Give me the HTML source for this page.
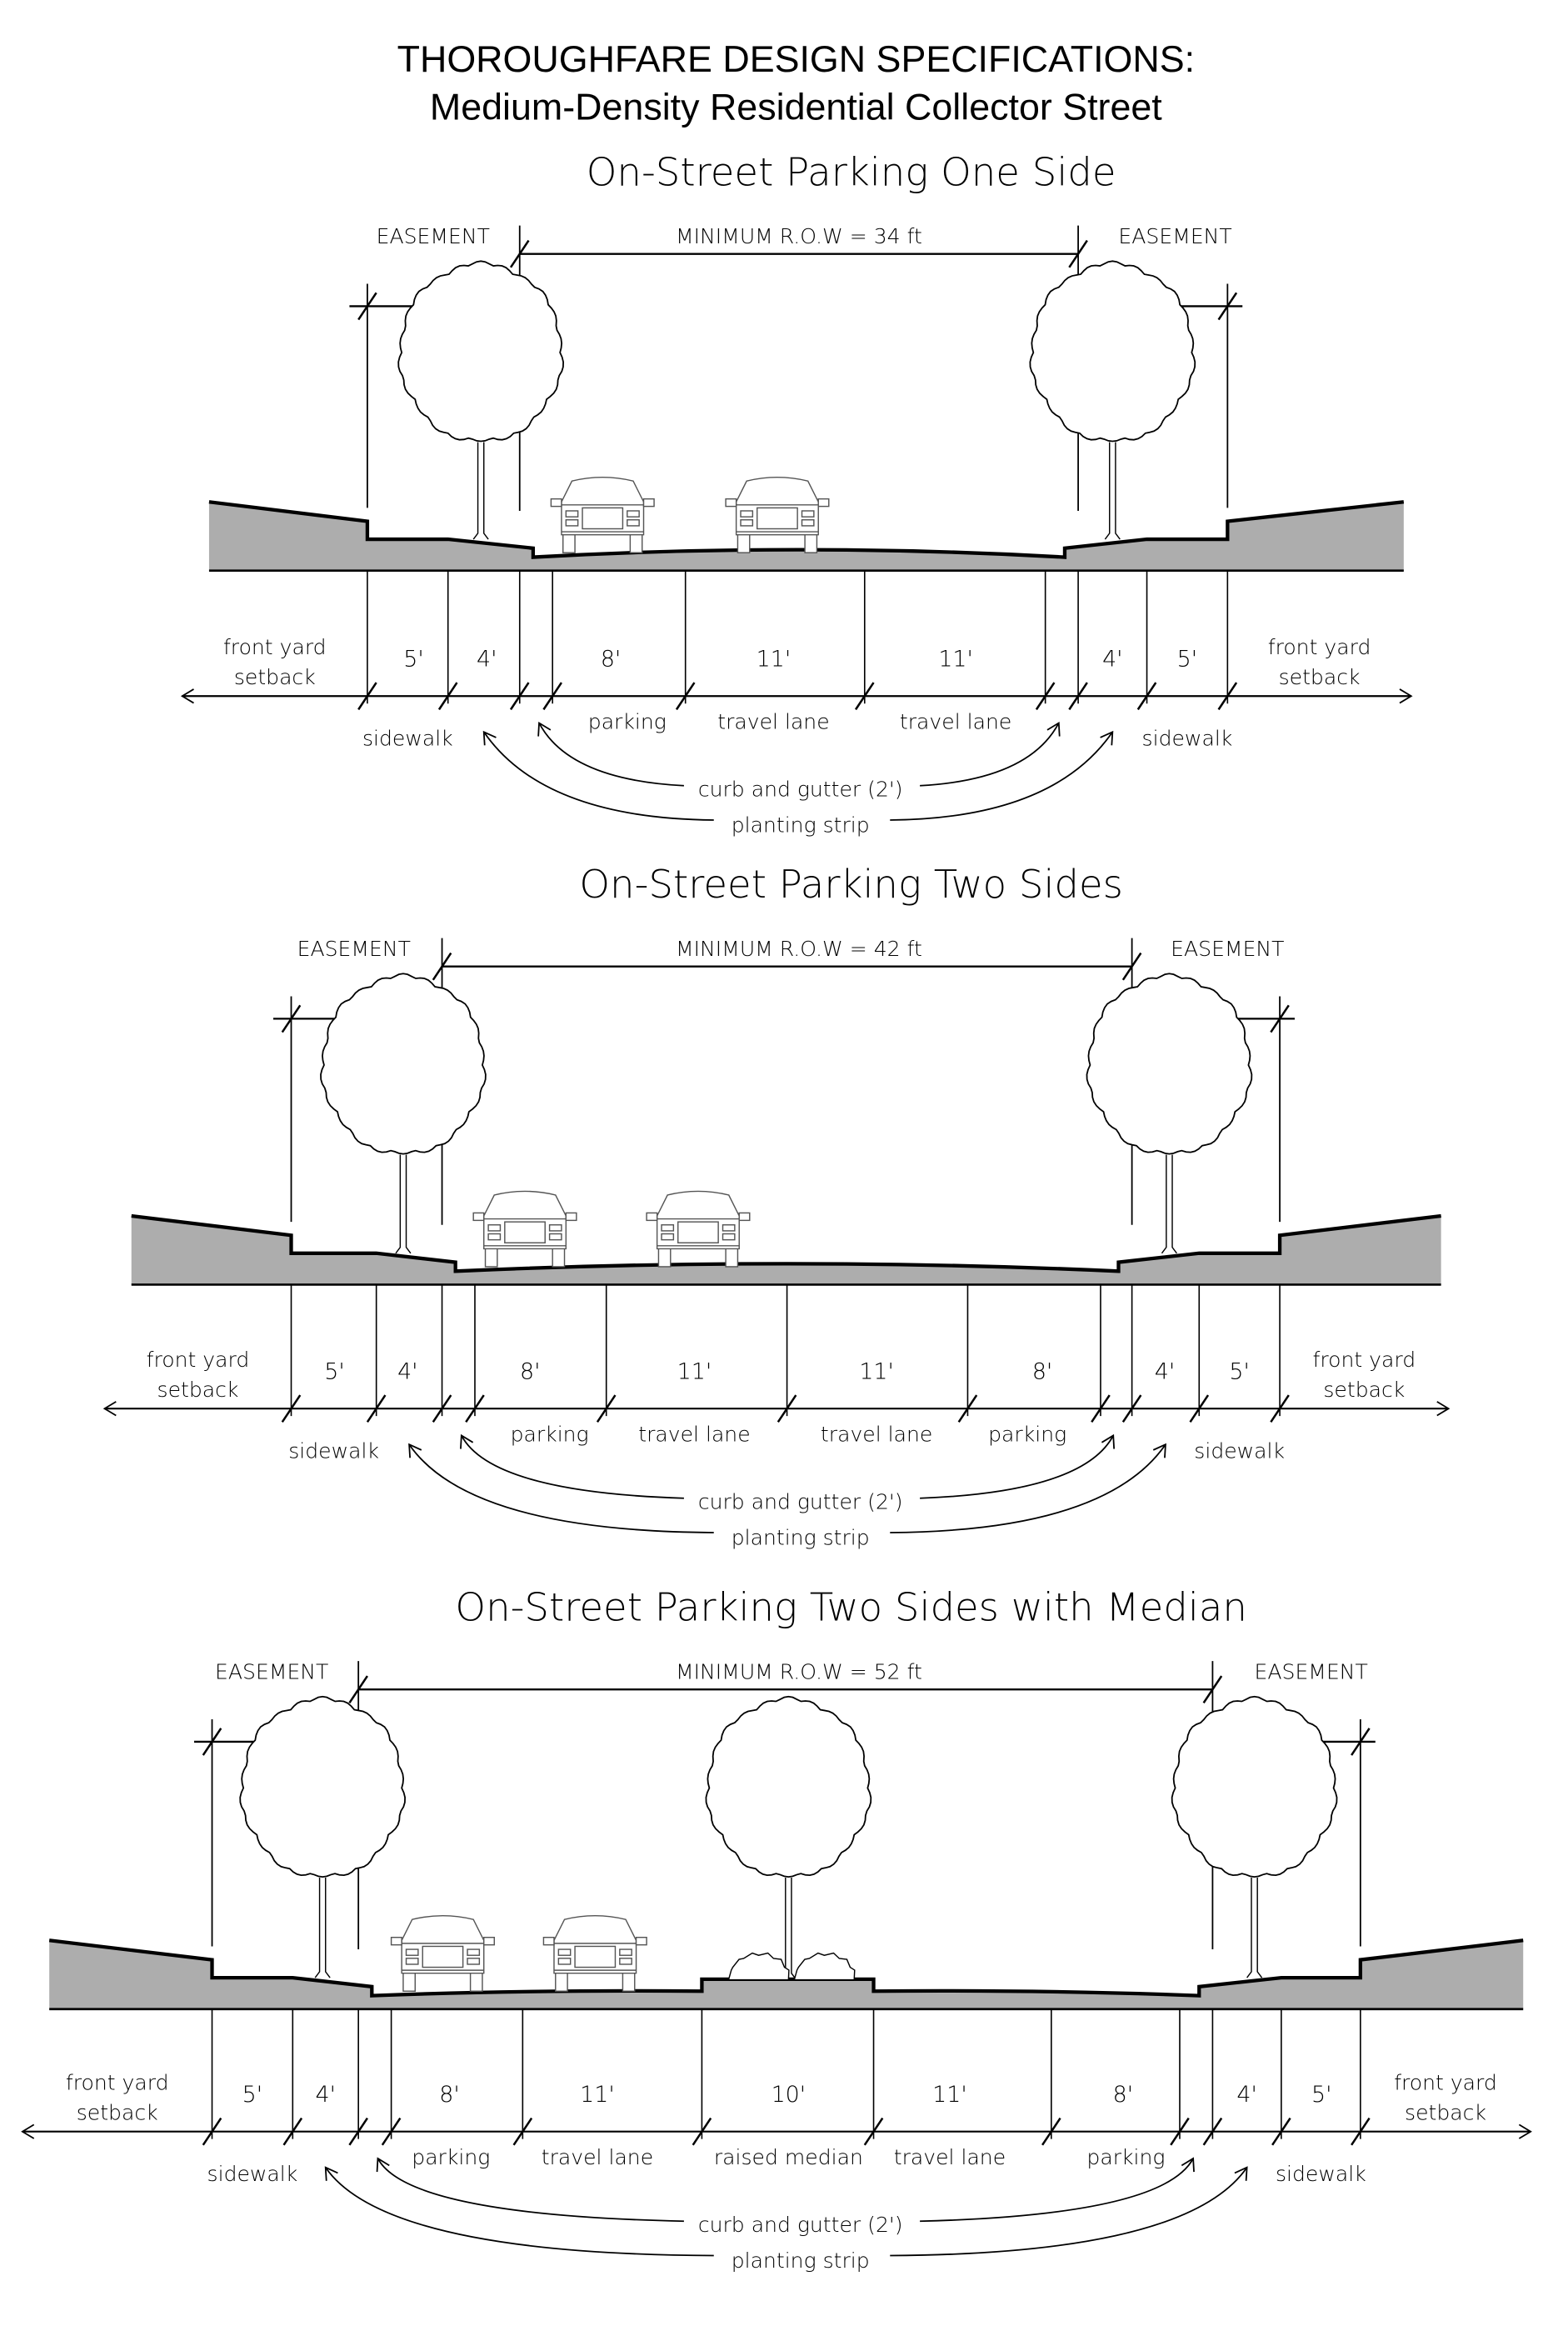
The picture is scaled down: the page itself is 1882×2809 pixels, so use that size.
<!DOCTYPE html>
<html><head><meta charset="utf-8">
<style>
html,body{margin:0;padding:0;background:#fff;}
svg{display:block;}
.h{font-family:"DejaVu Sans","Liberation Sans",sans-serif;font-weight:200;}
</style></head>
<body>
<svg id="s" xmlns="http://www.w3.org/2000/svg" width="1882" height="2809" viewBox="0 0 1050 1567.2">
<rect width="1050" height="1568" fill="#fff"/>
<text x="533" y="48" text-anchor="middle" font-family="Liberation Sans, sans-serif" font-size="25">THOROUGHFARE DESIGN SPECIFICATIONS:</text>
<text x="533" y="80" text-anchor="middle" font-family="Liberation Sans, sans-serif" font-size="25">Medium-Density Residential Collector Street</text>
</svg>
<script>
var S=document.getElementById('s'),h='';
function T(x,y,t,sz,a){h+='<text class="h" x="'+x+'" y="'+y+'" font-size="'+sz+'" text-anchor="'+(a||'middle')+'">'+t+'</text>';}
function Ln(x1,y1,x2,y2,w){h+='<line x1="'+x1+'" y1="'+y1+'" x2="'+x2+'" y2="'+y2+'" stroke="#000" stroke-width="'+(w||1)+'"/>';}
function tick(x,y){Ln(x-6,y+9,x+6,y-9,1.4);}
function tree(cx,top,bot){
  var rx=53,ry=58,cy=top+ry,p='';
  for(var i=0;i<=120;i++){var a=i/120*2*Math.PI;var r=1+0.04*Math.abs(Math.sin(a*11))+0.015*Math.sin(a*7);
    p+=(i?'L':'M')+(cx+rx*r*Math.cos(a)).toFixed(1)+','+(cy+ry*r*Math.sin(a)).toFixed(1);}
  h+='<path d="'+p+'Z" fill="#fff" stroke="#000" stroke-width="1"/>';
  var tb=cy+ry+2;
  h+='<path d="M'+(cx-2)+','+tb+'L'+(cx-2)+','+(bot-4)+'L'+(cx-5)+','+bot+'M'+(cx+2)+','+tb+'L'+(cx+2)+','+(bot-4)+'L'+(cx+5)+','+bot+'" fill="none" stroke="#000" stroke-width="0.8"/>';
}
function car(x,b){
  var w=67,g='#555';
  h+='<g fill="#fff" stroke="'+g+'" stroke-width="0.8">';
  h+='<rect x="'+(x+7)+'" y="'+(b-14)+'" width="8" height="14"/><rect x="'+(x+w-15)+'" y="'+(b-14)+'" width="8" height="14"/>';
  h+='<path d="M'+(x+6)+','+(b-12)+'L'+(x+6)+','+(b-34)+'L'+(x+13)+','+(b-48)+'Q'+(x+w/2)+','+(b-53)+' '+(x+w-13)+','+(b-48)+'L'+(x+w-6)+','+(b-34)+'L'+(x+w-6)+','+(b-12)+'Z"/>';
  h+='<rect x="'+(x-1)+'" y="'+(b-36)+'" width="7" height="5"/><rect x="'+(x+w-6)+'" y="'+(b-36)+'" width="7" height="5"/>';
  h+='<line x1="'+(x+6)+'" y1="'+(b-32)+'" x2="'+(x+w-6)+'" y2="'+(b-32)+'"/>';
  h+='<rect x="'+(x+20)+'" y="'+(b-30)+'" width="'+(w-40)+'" height="14"/>';
  h+='<rect x="'+(x+9)+'" y="'+(b-28)+'" width="8" height="4"/><rect x="'+(x+9)+'" y="'+(b-22)+'" width="8" height="4"/>';
  h+='<rect x="'+(x+w-17)+'" y="'+(b-28)+'" width="8" height="4"/><rect x="'+(x+w-17)+'" y="'+(b-22)+'" width="8" height="4"/>';
  h+='<line x1="'+(x+6)+'" y1="'+(b-14)+'" x2="'+(x+w-6)+'" y2="'+(b-14)+'"/></g>';
}
function arrowHead(x,y,ang){var a1=ang+2.6,a2=ang-2.6;
  h+='<path d="M'+(x+9*Math.cos(a1))+','+(y+9*Math.sin(a1))+'L'+x+','+y+'L'+(x+9*Math.cos(a2))+','+(y+9*Math.sin(a2))+'" fill="none" stroke="#000" stroke-width="1"/>';}
function curve(x1,y1,x2,y2,cx,cy){h+='<path d="M'+x1+','+y1+'Q'+cx+','+cy+' '+x2+','+y2+'" fill="none" stroke="#000" stroke-width="1"/>';
  arrowHead(x2,y2,Math.atan2(y2-cy,x2-cx));}
function section(o){
  var d=o.d,v=o.v,B=o.B,n=v.length,L=o.L,R=o.R;
  T(570,124+d,o.title,26);
  var rl=v[2],rr=v[n-3];
  var rowY=170+d,easY=205+d,labY=163+d,dimY=466+d;
  T(290-o.el,labY,'EASEMENT',14);T(535,labY,'MINIMUM R.O.W = '+o.row+' ft',14);T(787+o.er,labY,'EASEMENT',14);
  var p='M'+L+','+(B-46)+'L'+v[0]+','+(B-33)+'L'+v[0]+','+(B-21)+'L'+v[1]+','+(B-21)+'L'+(rl+9)+','+(B-15)+'L'+(rl+9)+','+(B-9);
  var mid=(rl+rr)/2;
  if(o.med){var m1=o.med[0],m2=o.med[1];
    p+='Q'+((rl+m1)/2)+','+(B-13)+' '+m1+','+(B-12)+'L'+m1+','+(B-20)+'L'+m2+','+(B-20)+'L'+m2+','+(B-12)+'Q'+((m2+rr)/2)+','+(B-13)+' '+(rr-9)+','+(B-9);}
  else p+='Q'+mid+','+(B-19)+' '+(rr-9)+','+(B-9);
  p+='L'+(rr-9)+','+(B-15)+'L'+v[n-2]+','+(B-21)+'L'+v[n-1]+','+(B-21)+'L'+v[n-1]+','+(B-33)+'L'+R+','+(B-46);
  h+='<path d="'+p+'L'+R+','+B+'L'+L+','+B+'Z" fill="#adadad"/>';
  h+='<path d="'+p+'" fill="none" stroke="#000" stroke-width="2.4"/>';
  Ln(L,B,R,B,1.5);
  Ln(rl,labY-12,rl,B-40);Ln(rr,labY-12,rr,B-40);
  Ln(v[0],easY-15,v[0],B-42);Ln(v[n-1],easY-15,v[n-1],B-42);
  Ln(rl,rowY,rr,rowY,1.3);tick(rl,rowY);tick(rr,rowY);
  Ln(v[0]-12,easY,rl+8,easY,1.3);tick(v[0],easY);tick(rl,easY);
  Ln(rr-8,easY,v[n-1]+10,easY,1.3);tick(rr,easY);tick(v[n-1],easY);
  o.trees.forEach(function(t,i){tree(t,rowY+8,B-(i==2?20:21));});
  if(o.med){var sh=function(x){var q='M'+x+','+(B-20);for(var i=0;i<=12;i++){var a=Math.PI-i/12*Math.PI;q+='L'+(x+20+20*Math.cos(a)+(i%2)).toFixed(1)+','+(B-20-16*Math.sin(a)-(i%2)*2).toFixed(1);}h+='<path d="'+q+'" fill="#fff" stroke="#000" stroke-width="0.8"/>';};sh(o.med[0]+18);sh(o.med[0]+62);}
  o.cars.forEach(function(c){var b=B-(c<mid?12:15);car(c,b);});
  v.forEach(function(x){Ln(x,B,x,dimY+5,0.9);tick(x,dimY);});
  Ln(L-18,dimY,R+5,dimY,1.2);
  arrowHead(L-18,dimY,Math.PI);arrowHead(R+5,dimY,0);
  var dy=446+d;
  o.dims.forEach(function(a){T(a[0],dy,a[1],15);});
  T((L-18+v[0])/2,438+d,'front yard',14);T((L-18+v[0])/2,458+d,'setback',14);
  T((R+5+v[n-1])/2,438+d,'front yard',14);T((R+5+v[n-1])/2,458+d,'setback',14);
  o.labs.forEach(function(a){T(a[0],488+d,a[1],14);});
  T((v[0]+v[1])/2,499+d,'sidewalk',14);T((v[n-2]+v[n-1])/2,499+d,'sidewalk',14);
  T(536,533+d,"curb and gutter (2')",14);T(536,557+d,'planting strip',14);
  var cL=(rl+v[3])/2+2,cR=(rr+v[n-4])/2-2,pL=(v[1]+rl)/2,pR=(rr+v[n-2])/2;
  curve(458,526+d,cL,dimY+18,cL+20,522+d);
  curve(616,526+d,cR,dimY+18,cR-20,522+d);
  curve(478,549+d,pL,dimY+24,pL+40,548+d);
  curve(596,549+d,pR,dimY+24,pR-40,548+d);
}
section({d:0,B:382,L:140,R:940,title:'On-Street Parking One Side',row:'34',el:0,er:0,
 v:[246,300,348,370,459,579,700,722,768,822],trees:[322,745],cars:[370,487],
 dims:[[277,"5'"],[326,"4'"],[409,"8'"],[518,"11'"],[640,"11'"],[745,"4'"],[795,"5'"]],
 labs:[[420,'parking'],[518,'travel lane'],[640,'travel lane']]});
section({d:477,B:860,L:88,R:965,title:'On-Street Parking Two Sides',row:'42',el:53,er:35,
 v:[195,252,296,318,406,527,648,737,758,803,857],trees:[270,783],cars:[318,434],
 dims:[[224,"5'"],[273,"4'"],[355,"8'"],[465,"11'"],[587,"11'"],[698,"8'"],[780,"4'"],[830,"5'"]],
 labs:[[368,'parking'],[465,'travel lane'],[587,'travel lane'],[688,'parking']]});
section({d:961,B:1345,L:33,R:1020,title:'On-Street Parking Two Sides with Median',row:'52',el:108,er:91,
 v:[142,196,240,262,350,470,585,704,790,812,858,911],trees:[216,840,528],cars:[263,365],med:[470,585],
 dims:[[169,"5'"],[218,"4'"],[301,"8'"],[400,"11'"],[528,"10'"],[636,"11'"],[752,"8'"],[835,"4'"],[885,"5'"]],
 labs:[[302,'parking'],[400,'travel lane'],[528,'raised median'],[636,'travel lane'],[754,'parking']]});
S.insertAdjacentHTML('beforeend',h);
</script>
</body></html>
